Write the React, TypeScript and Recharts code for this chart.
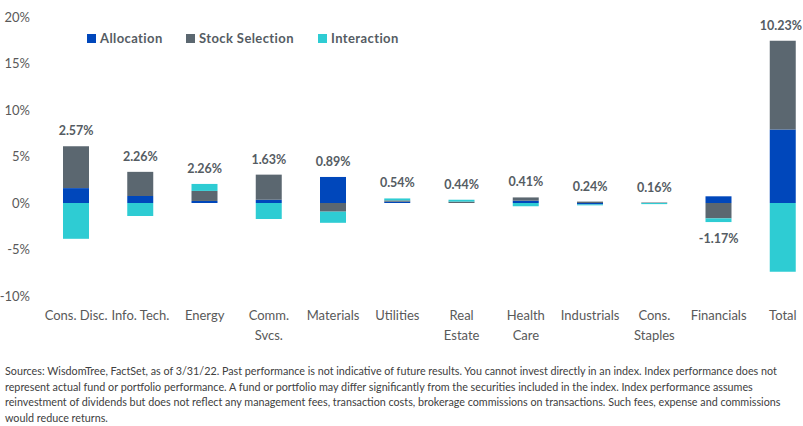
import React from "react";
import { ComposedChart, Bar, Line, XAxis, YAxis, LabelList } from "recharts";

const categories = [
  "Cons. Disc.",
  "Info. Tech.",
  "Energy",
  "Comm.\nSvcs.",
  "Materials",
  "Utilities",
  "Real\nEstate",
  "Health\nCare",
  "Industrials",
  "Cons.\nStaples",
  "Financials",
  "Total",
];
const allocation = [1.6, 0.75, 0.22, 0.35, 2.8, 0.14, 0, 0.25, -0.15, 0, 0.72, 7.9];
const stockSelection = [4.5, 2.6, 1.08, 2.7, -0.93, 0.14, 0.15, 0.35, 0.15, 0.05, -1.65, 9.55];
const interaction = [-3.85, -1.4, 0.75, -1.72, -1.2, 0.21, 0.2, -0.35, -0.1, -0.12, -0.4, -7.4];
const totalLabels = ["2.57%", "2.26%", "2.26%", "1.63%", "0.89%", "0.54%", "0.44%", "0.41%", "0.24%", "0.16%", "-1.17%", "10.23%"];
const yTicks = [-10, -5, 0, 5, 10, 15, 20];

const sourceLines = [
  "Sources: WisdomTree, FactSet, as of 3/31/22. Past performance is not indicative of future results. You cannot invest directly in an index. Index performance does not",
  "represent actual fund or portfolio performance. A fund or portfolio may differ significantly from the securities included in the index. Index performance assumes",
  "reinvestment of dividends but does not reflect any management fees, transaction costs, brokerage commissions on transactions. Such fees, expense and commissions",
  "would reduce returns.",
];

const COLORS = { allocation: "#0047BB", stock: "#5B6770", interaction: "#2ECCD3" };
const FONT = "Lato, 'Noto Sans', sans-serif";

const data = categories.map((name, i) => {
  const vals = [allocation[i], stockSelection[i], interaction[i]];
  const neg = totalLabels[i].startsWith("-");
  const labelPos = neg
    ? vals.filter(v => v < 0).reduce((a, b) => a + b, 0)
    : vals.filter(v => v > 0).reduce((a, b) => a + b, 0);
  return {
    name,
    allocation: allocation[i],
    stock: stockSelection[i],
    interaction: interaction[i],
    labelPos,
    label: totalLabels[i],
  };
});

const CategoryTick = ({ x, y, payload }: any) => {
  const lines = String(payload.value).split("\n");
  return (
    <text x={x} y={y} textAnchor="middle" fill="#595959" fontSize={13} fontFamily={FONT}>
      {lines.map((l, i) => (
        <tspan key={i} x={x} dy={i === 0 ? 16 : 20}>
          {l}
        </tspan>
      ))}
    </text>
  );
};

const TotalLabel = ({ x, y, index }: any) => {
  const text = totalLabels[index];
  const neg = text.startsWith("-");
  // the last label sits against the right edge, nudge it in a little
  const dx = index === totalLabels.length - 1 ? -2 : 0;
  return (
    <text
      x={x + dx}
      y={neg ? y + 21 : y - 11}
      textAnchor="middle"
      fill="#555c63"
      fontSize={12.5}
      fontWeight="bold"
      fontFamily={FONT}
    >
      {text}
    </text>
  );
};

const legendItems = [
  { label: "Allocation", color: COLORS.allocation, left: 87 },
  { label: "Stock Selection", color: COLORS.stock, left: 186 },
  { label: "Interaction", color: COLORS.interaction, left: 318 },
];

export default function App() {
  return (
    <div
      style={{
        position: "absolute",
        left: 0,
        top: 0,
        width: 803,
        height: 426,
        overflow: "hidden",
        background: "#fff",
        fontFamily: FONT,
      }}
    >
      <ComposedChart
        width={815}
        height={350}
        data={data}
        stackOffset="sign"
        margin={{ top: 17, right: 0, bottom: 0, left: 0 }}
      >
        <XAxis
          dataKey="name"
          axisLine={false}
          tickLine={false}
          tickSize={0}
          tickMargin={8}
          height={54}
          interval={0}
          tick={<CategoryTick />}
        />
        <YAxis
          domain={[-10, 20]}
          ticks={yTicks}
          axisLine={false}
          tickLine={false}
          tickSize={0}
          tickMargin={14}
          width={44}
          tickFormatter={v => `${v}%`}
          tick={{ fill: "#595959", fontSize: 13, fontFamily: FONT }}
        />
        <Bar dataKey="allocation" stackId="a" fill={COLORS.allocation} barSize={26} isAnimationActive={false} />
        <Bar dataKey="stock" stackId="a" fill={COLORS.stock} barSize={26} isAnimationActive={false} />
        <Bar dataKey="interaction" stackId="a" fill={COLORS.interaction} barSize={26} isAnimationActive={false} />
        <Line
          dataKey="labelPos"
          stroke="none"
          dot={false}
          activeDot={false}
          isAnimationActive={false}
        >
          <LabelList dataKey="label" content={<TotalLabel />} />
        </Line>
      </ComposedChart>

      {legendItems.map(item => (
        <div
          key={item.label}
          style={{
            position: "absolute",
            left: item.left,
            top: 30,
            display: "flex",
            alignItems: "center",
            fontSize: 13,
            fontWeight: "bold",
            letterSpacing: 0.4,
            color: "#555c63",
          }}
        >
          <span style={{ width: 9, height: 9, background: item.color, marginRight: 4, display: "inline-block" }} />
          {item.label}
        </div>
      ))}

      <div
        style={{
          position: "absolute",
          left: 5,
          top: 363,
          fontSize: 10.75,
          lineHeight: "15.6px",
          color: "#404040",
          whiteSpace: "nowrap",
        }}
      >
        {sourceLines.map((l, i) => (
          <div key={i}>{l}</div>
        ))}
      </div>
    </div>
  );
}
